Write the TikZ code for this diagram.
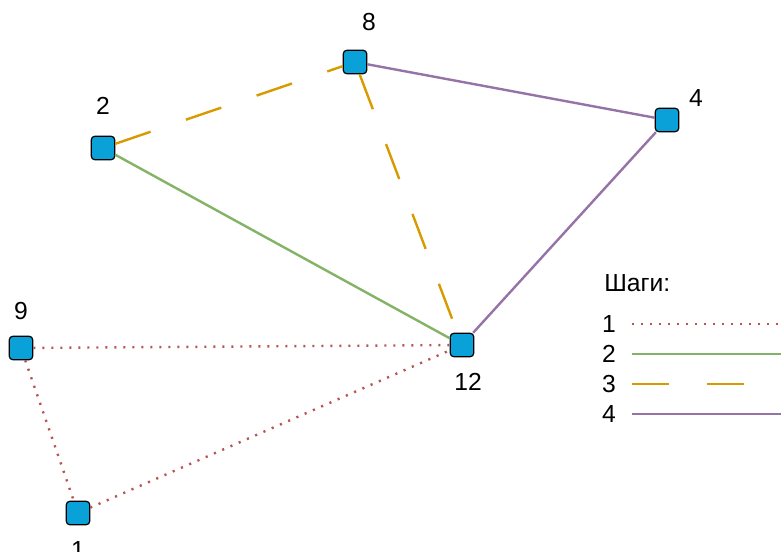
\documentclass[tikz,border=0pt]{standalone}
\usepackage{fontspec}
\setmainfont{Liberation Sans}
\usetikzlibrary{positioning}

\definecolor{nodeblue}{HTML}{0AA0D8}
\definecolor{stepred}{HTML}{B85450}
\definecolor{stepgreen}{HTML}{82B366}
\definecolor{steporange}{HTML}{D79B00}
\definecolor{steppurple}{HTML}{9673A6}

\begin{document}
\begin{tikzpicture}[
    x=0.75pt, y=-0.75pt,
    vertex/.style={rectangle,rounded corners=2.5pt,draw=black,line width=0.9pt,fill=nodeblue,minimum size=17.5pt,inner sep=0pt},
    num/.style={font=\fontsize{18.5}{21}\selectfont,inner sep=0pt},
    stepone/.style={draw=stepred,line width=1.8pt,dash pattern=on 1.6pt off 5.15pt},
    steptwo/.style={draw=stepgreen,line width=1.8pt},
    stepthree/.style={draw=steporange,line width=1.8pt,dash pattern=on 28pt off 28pt},
    stepfour/.style={draw=steppurple,line width=1.8pt}
]
    \useasboundingbox (0,0) rectangle (781,552);

    % Vertices
    \node[vertex] (v8)  at (355,62)  {};
    \node[vertex] (v2)  at (103,148) {};
    \node[vertex] (v4)  at (667,120) {};
    \node[vertex] (v9)  at (21,348)  {};
    \node[vertex] (v12) at (462,345) {};
    \node[vertex] (v1)  at (78,513)  {};

    % Vertex labels
    \node[num] (l8)  at (369,22)  {8};
    \node[num] (l2)  at (103,106) {2};
    \node[num] (l4)  at (696,98)  {4};
    \node[num] (l9)  at (21,311)  {9};
    \node[num] (l12) at (468,382) {12};
    \node[num] (l1)  at (78,550)  {1};

    % Step 1
    \draw[stepone] (v9) -- (v12);
    \draw[stepone] (v9) -- (v1);
    \draw[stepone] (v1) -- (v12);
    % Step 2
    \draw[steptwo] (v2) -- (v12);
    % Step 3
    \draw[stepthree] (v2) -- (v8);
    \draw[stepthree] (v8) -- (v12);
    % Step 4
    \draw[stepfour] (v8) -- (v4);
    \draw[stepfour] (v12) -- (v4);

    % Legend
    \node[num,anchor=west] (title) at (604,283) {Шаги:};
    \foreach \k/\st [count=\i] in {1/stepone,2/steptwo,3/stepthree,4/stepfour} {
        \node[num] (k\k) at (609,294+30*\i) {\k};
        \coordinate (s\k) at (632,294+30*\i);
        \coordinate (e\k) at (781,294+30*\i);
        \draw[\st] (s\k) -- (e\k);
    }
\end{tikzpicture}
\end{document}
